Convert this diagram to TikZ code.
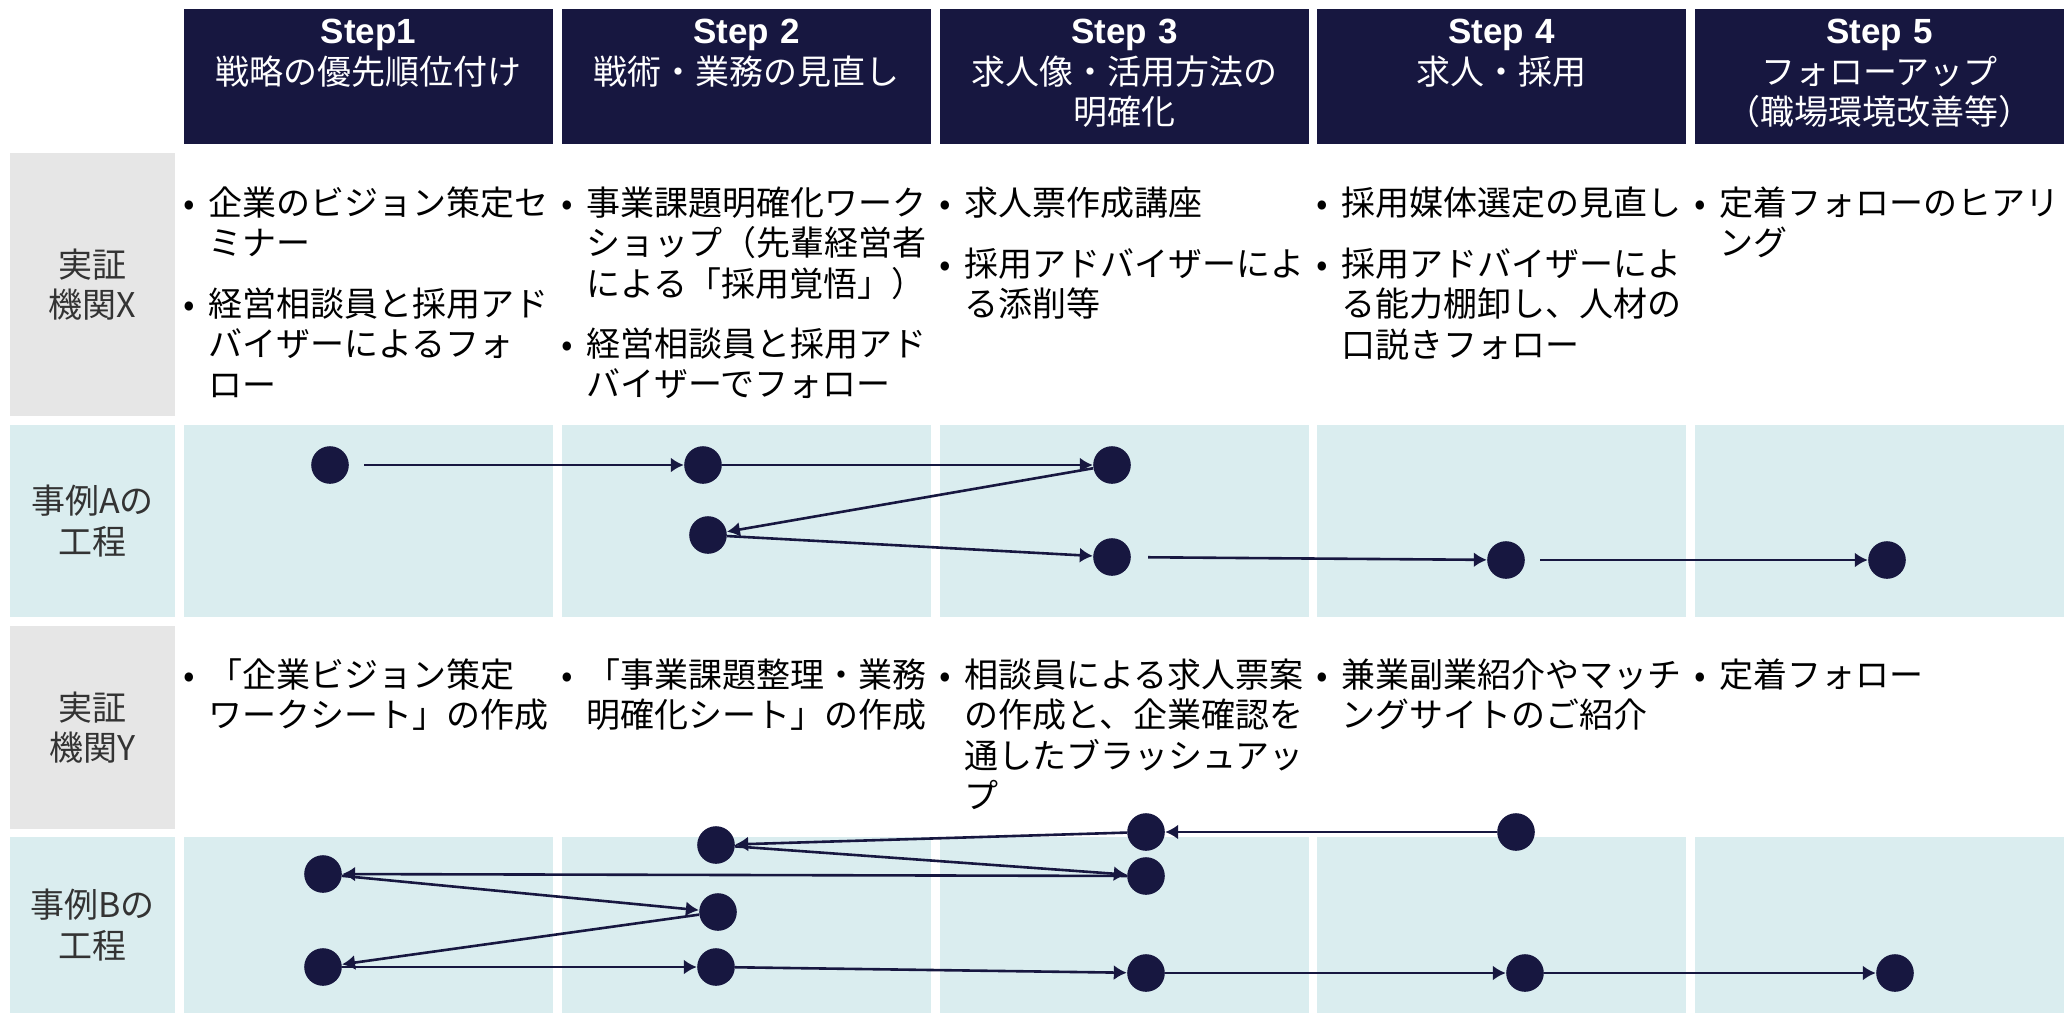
\documentclass[tikz,border=0pt]{standalone}
\usepackage{fontspec}
\setmainfont{Noto Sans CJK JP}
\newfontfamily\stepfont{Liberation Sans}
\usetikzlibrary{arrows.meta}
\definecolor{navy}{HTML}{171740}
\definecolor{cellcyan}{HTML}{DAEDEF}
\definecolor{labelgray}{HTML}{E6E6E6}
\definecolor{labeltext}{HTML}{333333}
\newcommand{\fs}{\fontsize{17pt}{20.25pt}\selectfont}
\newcommand{\bul}{\llap{\makebox[11pt]{•}\hspace{4pt}}}
\newcommand{\stp}[1]{{\stepfont\bfseries\fontsize{17.5pt}{20.25pt}\selectfont #1}}
\begin{document}
\begin{tikzpicture}[x=0.5pt,y=-0.5pt,
  hdrbox/.style={fill=navy},
  graybox/.style={fill=labelgray},
  cyanbox/.style={fill=cellcyan},
  hdrtext/.style={anchor=base, inner sep=0pt, align=center, text width=184.5pt, text=white, font=\fs},
  itemtext/.style={anchor=base west, inner sep=0pt, align=left, text width=200pt, text=black, font=\fs},
  labeltxt/.style={anchor=center, inner sep=0pt, align=center, text=labeltext, font=\fs},
  dot/.style={circle, fill=navy, minimum size=18.8pt, inner sep=0pt},
  arr/.style={draw=navy, line width=1.3pt, -{Latex[length=6.5pt,width=7.5pt]}}]
\useasboundingbox (0,0) rectangle (2069,1013);
\fill[white] (0,0) rectangle (2069,1013);
% header boxes and cells
\foreach \c in {184,562,940,1317,1695}{
  \fill[hdrbox] (\c,9) rectangle ++(369,135);
  \fill[cyanbox] (\c,425) rectangle ++(369,192);
  \fill[cyanbox] (\c,837) rectangle ++(369,176);
}
\fill[graybox] (10,153) rectangle (175,416);
\fill[cyanbox] (10,425) rectangle (175,617);
\fill[graybox] (10,626) rectangle (175,829);
\fill[cyanbox] (10,837) rectangle (175,1013);
% header texts
\node[hdrtext] (h1) at (368.5,43.5) {\stp{Step1}\\戦略の優先順位付け};
\node[hdrtext] (h2) at (746.5,43.5) {\stp{Step 2}\\戦術・業務の見直し};
\node[hdrtext] (h3) at (1124.5,43.5) {\stp{Step 3}\\求人像・活用方法の\\明確化};
\node[hdrtext] (h4) at (1501.5,43.5) {\stp{Step 4}\\求人・採用};
\node[hdrtext] (h5) at (1879.5,43.5) {\stp{Step 5}\\フォローアップ\\（職場環境改善等）};
% row labels
\node[labeltxt] (lx) at (92.5,284.5) {実証\\機関X};
\node[labeltxt] (la) at (92.5,521) {事例Aの\\工程};
\node[labeltxt] (ly) at (92.5,727.5) {実証\\機関Y};
\node[labeltxt] (lb) at (92.5,925) {事例Bの\\工程};
% row X items
\node[itemtext] (x1a) at (208,215) {\bul 企業のビジョン策定セ\\ミナー};
\node[itemtext] (x1b) at (208,316) {\bul 経営相談員と採用アド\\バイザーによるフォ\\ロー};
\node[itemtext] (x2a) at (586,215) {\bul 事業課題明確化ワーク\\ショップ（先輩経営者\\による「採用覚悟」）};
\node[itemtext] (x2b) at (586,356) {\bul 経営相談員と採用アド\\バイザーでフォロー};
\node[itemtext] (x3a) at (964,215) {\bul 求人票作成講座};
\node[itemtext] (x3b) at (964,276) {\bul 採用アドバイザーによ\\る添削等};
\node[itemtext] (x4a) at (1341,215) {\bul 採用媒体選定の見直し};
\node[itemtext] (x4b) at (1341,276) {\bul 採用アドバイザーによ\\る能力棚卸し、人材の\\口説きフォロー};
\node[itemtext] (x5a) at (1719,215) {\bul 定着フォローのヒアリ\\ング};
% row Y items
\node[itemtext] (y1) at (208,687) {\bul 「企業ビジョン策定\\ワークシート」の作成};
\node[itemtext] (y2) at (586,687) {\bul 「事業課題整理・業務\\明確化シート」の作成};
\node[itemtext] (y3) at (964,687) {\bul 相談員による求人票案\\の作成と、企業確認を\\通したブラッシュアッ\\プ};
\node[itemtext] (y4) at (1341,687) {\bul 兼業副業紹介やマッチ\\ングサイトのご紹介};
\node[itemtext] (y5) at (1719,687) {\bul 定着フォロー};
% row A dots
\node[dot] (a1) at (330,465) {};
\node[dot] (a2) at (703,465) {};
\node[dot] (a3) at (1112,465) {};
\node[dot] (a4) at (708,535) {};
\node[dot] (a5) at (1112,557) {};
\node[dot] (a6) at (1506,560) {};
\node[dot] (a7) at (1887,560) {};
\draw[arr, shorten <=7.5pt] (a1) -- (a2);
\draw[arr] (a2) -- (a3);
\draw[arr] (a3) -- (a4);
\draw[arr] (a4) -- (a5);
\draw[arr, shorten <=8.5pt] (a5) -- (a6);
\draw[arr, shorten <=7.5pt] (a6) -- (a7);
% row B dots
\node[dot] (b1) at (716,845) {};
\node[dot] (b2) at (323,874) {};
\node[dot] (b3) at (718,912) {};
\node[dot] (b4) at (323,967) {};
\node[dot] (b5) at (716,967) {};
\node[dot] (b6) at (1146,832) {};
\node[dot] (b7) at (1516,832) {};
\node[dot] (b8) at (1146,876) {};
\node[dot] (b9) at (1146,973) {};
\node[dot] (b10) at (1525,973) {};
\node[dot] (b11) at (1895,973) {};
\draw[arr] (b7) -- (b6);
\draw[arr] (b6) -- (b1);
\draw[arr] (b1) -- (b8);
\draw[arr] (b8) -- (b2);
\draw[arr] (b2) -- (b3);
\draw[arr] (b3) -- (b4);
\draw[arr] (b4) -- (b5);
\draw[arr] (b5) -- (b9);
\draw[arr] (b9) -- (b10);
\draw[arr] (b10) -- (b11);
\end{tikzpicture}
\end{document}
